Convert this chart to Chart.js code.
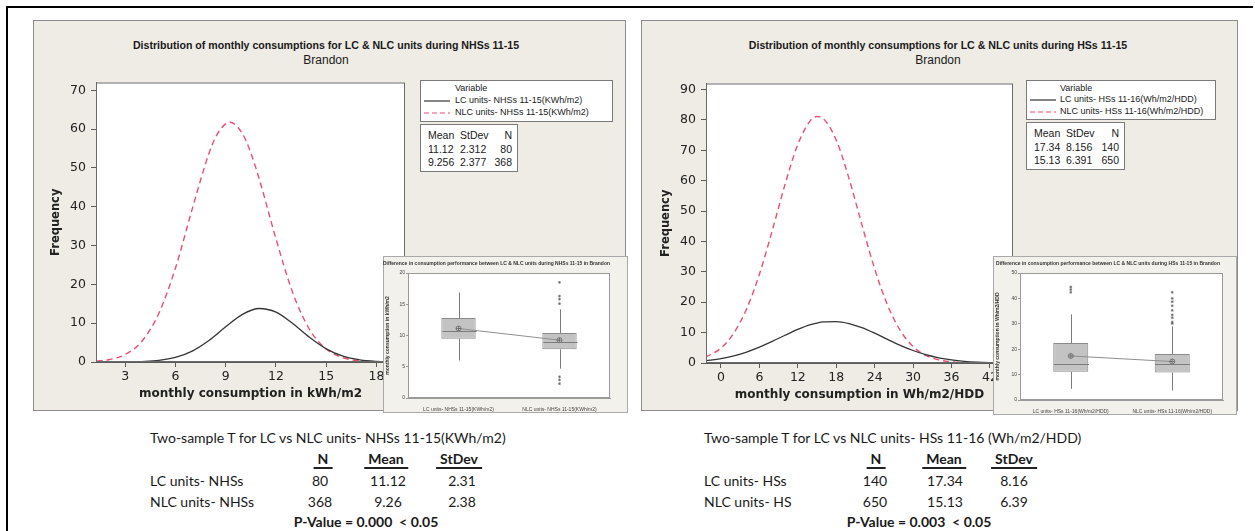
<!DOCTYPE html>
<html>
<head>
<meta charset="utf-8">
<title>Brandon consumption distributions</title>
<script src="https://cdn.jsdelivr.net/npm/chart.js@4.4.1/dist/chart.umd.min.js"></script>
<style>
  body { margin: 0; background: #fff; width: 1255px; height: 531px; position: relative; overflow: hidden; font-family: 'Liberation Sans', Arial, sans-serif; color: #1a1a1a; }
  .abs { position: absolute; }
  .rule { position: absolute; background: #000; }
  .panel { position: absolute; background: #efece5; border: 1px solid #8c8c8c; box-sizing: border-box; }
  .gtitle { position: absolute; font-weight: bold; font-size: 10.6px; transform: translateX(-50%); white-space: nowrap; }
  .gsub { position: absolute; font-size: 12px; transform: translateX(-50%); white-space: nowrap; }
  .box { position: absolute; background: #fff; border: 1px solid #7a7a7a; box-sizing: border-box; font-size: 9px; }
  .box div { position: absolute; white-space: nowrap; }
  .inset { position: absolute; background: #f3f1ec; border: 1px solid #a9a9a9; box-sizing: border-box; }
  .t { position: absolute; font-family: Lato, 'Open Sans', sans-serif; font-size: 14px; line-height: 16px; white-space: nowrap; }
  .c { transform: translateX(-50%); }
  .b { font-weight: bold; }
  .u { border-bottom: 2px solid #222; padding: 0 4px; }
  canvas { position: absolute; }
</style>
</head>
<body>
<div class="rule" style="left:6px;top:6px;width:1247px;height:2px"></div>
<div class="rule" style="left:6px;top:6px;width:2px;height:525px"></div>

<!-- NHS graph window -->
<div class="panel" style="left:33px;top:20px;width:593px;height:391px"></div>
<div class="gtitle" style="left:326px;top:39px">Distribution of monthly consumptions for LC &amp; NLC units during NHSs 11-15</div>
<div class="gsub" style="left:326px;top:53px">Brandon</div>
<canvas id="nhsChart" width="370" height="340" style="left:40px;top:70px"></canvas>
<div class="box" style="left:420px;top:80px;width:193px;height:42px">
  <div style="left:34px;top:2px">Variable</div>
  <svg class="abs" style="left:3px;top:19px" width="28" height="3"><line x1="0" y1="1" x2="26" y2="1" stroke="#333" stroke-width="1.2"/></svg>
  <div style="left:34px;top:14px">LC units- NHSs 11-15(KWh/m2)</div>
  <svg class="abs" style="left:3px;top:31px" width="28" height="3"><line x1="0" y1="1" x2="26" y2="1" stroke="#ee4d6f" stroke-width="1.2" stroke-dasharray="5,3"/></svg>
  <div style="left:34px;top:26px">NLC units- NHSs 11-15(KWh/m2)</div>
</div>
<div class="box" id="nhsStats" style="left:420px;top:124px;width:98px;height:48px;font-size:10.5px"></div>
<div class="inset" style="left:383px;top:256px;width:245px;height:157px"></div>
<canvas id="nhsBox" width="245" height="157" style="left:383px;top:256px"></canvas>

<!-- HS graph window -->
<div class="panel" style="left:641px;top:20px;width:597px;height:391px"></div>
<div class="gtitle" style="left:938px;top:39px">Distribution of monthly consumptions for LC &amp; NLC units during HSs 11-15</div>
<div class="gsub" style="left:938px;top:53px">Brandon</div>
<canvas id="hsChart" width="368" height="340" style="left:650px;top:71px"></canvas>
<div class="box" style="left:1026px;top:80px;width:190px;height:40px">
  <div style="left:33px;top:2px">Variable</div>
  <svg class="abs" style="left:3px;top:18px" width="28" height="3"><line x1="0" y1="1" x2="26" y2="1" stroke="#333" stroke-width="1.2"/></svg>
  <div style="left:33px;top:13px">LC units- HSs 11-16(Wh/m2/HDD)</div>
  <svg class="abs" style="left:3px;top:30px" width="28" height="3"><line x1="0" y1="1" x2="26" y2="1" stroke="#ee4d6f" stroke-width="1.2" stroke-dasharray="5,3"/></svg>
  <div style="left:33px;top:25px">NLC units- HSs 11-16(Wh/m2/HDD)</div>
</div>
<div class="box" id="hsStats" style="left:1026px;top:122px;width:99px;height:48px;font-size:10.5px"></div>
<div class="inset" style="left:993px;top:256px;width:244px;height:159px"></div>
<canvas id="hsBox" width="244" height="159" style="left:993px;top:256px"></canvas>

<!-- two-sample t summaries -->
<div class="t" style="left:150px;top:430px">Two-sample T for LC vs NLC units- NHSs 11-15(KWh/m2)</div>
<div class="t b c u" style="left:323px;top:451px">N</div>
<div class="t b c u" style="left:386px;top:451px">Mean</div>
<div class="t b c u" style="left:459px;top:451px">StDev</div>
<div class="t" style="left:150px;top:473px">LC units- NHSs</div>
<div class="t c" style="left:320px;top:473px">80</div>
<div class="t c" style="left:388px;top:473px">11.12</div>
<div class="t c" style="left:462px;top:473px">2.31</div>
<div class="t" style="left:150px;top:494px">NLC units- NHSs</div>
<div class="t c" style="left:320px;top:494px">368</div>
<div class="t c" style="left:388px;top:494px">9.26</div>
<div class="t c" style="left:462px;top:494px">2.38</div>
<div class="t b c" style="left:366px;top:514px">P-Value = 0.000 &nbsp;&lt; 0.05</div>

<div class="t" style="left:704px;top:430px">Two-sample T for LC vs NLC units- HSs 11-16 (Wh/m2/HDD)</div>
<div class="t b c u" style="left:876px;top:451px">N</div>
<div class="t b c u" style="left:944px;top:451px">Mean</div>
<div class="t b c u" style="left:1014px;top:451px">StDev</div>
<div class="t" style="left:704px;top:473px">LC units- HSs</div>
<div class="t c" style="left:875px;top:473px">140</div>
<div class="t c" style="left:945px;top:473px">17.34</div>
<div class="t c" style="left:1014px;top:473px">8.16</div>
<div class="t" style="left:704px;top:494px">NLC units- HS</div>
<div class="t c" style="left:875px;top:494px">650</div>
<div class="t c" style="left:945px;top:494px">15.13</div>
<div class="t c" style="left:1014px;top:494px">6.39</div>
<div class="t b c" style="left:919px;top:514px">P-Value = 0.003 &nbsp;&lt; 0.05</div>

<script>
// NHSs 11-15 fitted frequency curves (kWh/m2)
const nhsLcX = [3.8, 5, 6, 7, 8, 9, 10, 11, 12, 13, 14, 15, 16, 17, 18, 19];
const nhsLc = [0.09, 0.42, 1.19, 2.82, 5.55, 9.06, 12.27, 13.78, 12.84, 9.91, 6.35, 3.38, 1.49, 0.54, 0.16, 0.04];
const nhsNlcX = [1.3, 2, 3, 4, 5, 6, 7, 8, 8.5, 9.25, 10, 10.5, 11, 12, 13, 14, 15, 16, 17, 18, 19];
const nhsNlc = [0.23, 0.58, 1.93, 5.36, 12.43, 24.17, 39.37, 53.71, 58.72, 61.76, 58.81, 53.85, 47.18, 31.73, 17.87, 8.42, 3.33, 1.10, 0.31, 0.07, 0.01];
const nhsXTicks = [3, 6, 9, 12, 15, 18];
const nhsYTicks = [0, 10, 20, 30, 40, 50, 60, 70];

// HSs 11-16 fitted frequency curves (Wh/m2/HDD)
const hsLcX = [-2.4, 0, 2, 4, 6, 8, 10, 12, 14, 16, 18, 20, 22, 24, 26, 28, 30, 32, 34, 36, 38, 40, 42, 44];
const hsLc = [0.73, 1.43, 2.34, 3.59, 5.21, 7.11, 9.14, 11.06, 12.60, 13.52, 13.65, 12.99, 11.64, 9.82, 7.80, 5.83, 4.11, 2.72, 1.70, 1.00, 0.55, 0.29, 0.14, 0.06];
const hsNlcX = [-2.4, 0, 2, 4, 6, 8, 10, 12, 14, 15, 16, 18, 20, 22, 24, 26, 28, 30, 32, 34, 36, 38, 40, 42];
const hsNlc = [1.89, 4.93, 9.84, 17.80, 29.23, 43.54, 58.79, 71.97, 79.88, 81.13, 80.39, 73.36, 60.69, 45.53, 30.97, 19.10, 10.68, 5.41, 2.49, 1.04, 0.39, 0.13, 0.04, 0.01];
const hsXTicks = [0, 6, 12, 18, 24, 30, 36, 42];
const hsYTicks = [0, 10, 20, 30, 40, 50, 60, 70, 80, 90];

// descriptive statistics boxes
const statHead = ['Mean', 'StDev', 'N'];
const nhsStats = [['11.12', '2.312', '80'], ['9.256', '2.377', '368']];
const hsStats = [['17.34', '8.156', '140'], ['15.13', '6.391', '650']];

// boxplot summaries
const nhsBoxLabels = ['LC units- NHSs 11-15(KWh/m2)', 'NLC units- NHSs 11-15(KWh/m2)'];
const nhsBoxLow = [6.0, 4.7];
const nhsBoxQ1 = [9.5, 7.8];
const nhsBoxMed = [10.8, 9.0];
const nhsBoxQ3 = [12.8, 10.4];
const nhsBoxHigh = [16.9, 14.2];
const nhsBoxMean = [11.12, 9.256];
const nhsLcOut = [];
const nhsNlcOut = [15.1, 15.8, 16.3, 18.5, 3.4, 2.9, 2.3];
const nhsBoxTicks = [0, 5, 10, 15, 20];

const hsBoxLabels = ['LC units- HSs 11-16(Wh/m2/HDD)', 'NLC units- HSs 11-16(Wh/m2/HDD)'];
const hsBoxLow = [4.4, 3.7];
const hsBoxQ1 = [11.1, 10.8];
const hsBoxMed = [14.0, 14.0];
const hsBoxQ3 = [22.4, 18.1];
const hsBoxHigh = [33.7, 29.0];
const hsBoxMean = [17.34, 15.13];
const hsLcOut = [42.4, 43.5, 44.5];
const hsNlcOut = [30.1, 30.7, 32.4, 33.5, 35.3, 37.1, 38.7, 40.0, 42.4];
const hsBoxTicks = [0, 10, 20, 30, 40, 50];

const LC_COLOR = '#353535';
const NLC_COLOR = '#ee4d6f';
const AXIS = '#5a5a5a';

function fillStats(id, rows) {
  const el = document.getElementById(id);
  const cols = [7, 39, 76];
  const html = [];
  [statHead].concat(rows).forEach((r, j) => {
    r.forEach((txt, k) => {
      const style = k === 2 ? 'right:5px' : `left:${cols[k]}px`;
      html.push(`<div style="${style};top:${4 + j * 13.5}px">${txt}</div>`);
    });
  });
  el.innerHTML = html.join('');
}
fillStats('nhsStats', nhsStats);
fillStats('hsStats', hsStats);

// white data region with a grey frame
const plotFrame = {
  id: 'plotFrame',
  beforeDraw(chart) {
    const { ctx, chartArea: a } = chart;
    ctx.save();
    ctx.fillStyle = '#fff';
    ctx.fillRect(a.left, a.top, a.width, a.height);
    ctx.restore();
  },
  afterDraw(chart, args, opts) {
    const { ctx, chartArea: a } = chart;
    ctx.save();
    ctx.strokeStyle = opts.color || '#6a6a6a';
    ctx.lineWidth = 1;
    ctx.strokeRect(a.left + 0.5, a.top + 0.5, a.width - 1, a.height - 1);
    ctx.restore();
  }
};

// whiskers and median lines for the floating-bar boxes
const boxWhiskers = {
  id: 'boxWhiskers',
  afterDatasetsDraw(chart, args, opts) {
    const { ctx } = chart;
    const y = chart.scales.y;
    const meta = chart.getDatasetMeta(0);
    ctx.save();
    ctx.strokeStyle = '#7c7c7c';
    ctx.lineWidth = 1;
    opts.low.forEach((lo, i) => {
      const bar = meta.data[i];
      const cx = Math.round(bar.x) + 0.5;
      const half = bar.width / 2;
      ctx.beginPath();
      ctx.moveTo(cx, y.getPixelForValue(lo));
      ctx.lineTo(cx, y.getPixelForValue(opts.q1[i]));
      ctx.moveTo(cx, y.getPixelForValue(opts.q3[i]));
      ctx.lineTo(cx, y.getPixelForValue(opts.high[i]));
      const my = Math.round(y.getPixelForValue(opts.median[i])) + 0.5;
      ctx.moveTo(cx - half, my);
      ctx.lineTo(cx + half, my);
      ctx.stroke();
    });
    ctx.restore();
  }
};

function curveChart(id, o) {
  return new Chart(document.getElementById(id), {
    type: 'line',
    data: {
      datasets: [
        { label: o.lcLabel, data: o.lcX.map((x, i) => ({ x, y: o.lc[i] })), borderColor: LC_COLOR, borderWidth: 1.3 },
        { label: o.nlcLabel, data: o.nlcX.map((x, i) => ({ x, y: o.nlc[i] })), borderColor: NLC_COLOR, borderWidth: 1.4, borderDash: [6, 4] }
      ]
    },
    options: {
      responsive: false,
      animation: false,
      devicePixelRatio: 1,
      layout: { padding: { top: 8, right: 5, left: 0, bottom: 0 } },
      elements: { point: { radius: 0 }, line: { cubicInterpolationMode: 'monotone', fill: false } },
      plugins: { legend: { display: false }, tooltip: { enabled: false }, title: { display: false } },
      scales: {
        x: {
          type: 'linear', min: o.xMin, max: o.xMax,
          afterBuildTicks: s => { s.ticks = o.xTicks.map(v => ({ value: v })); },
          afterFit: s => { s.height = 48; },
          ticks: { color: '#222', padding: 2, maxRotation: 0, autoSkip: false, font: { family: 'DejaVu Sans', size: 12.5 } },
          grid: { drawOnChartArea: false, drawTicks: true, tickLength: 5, color: AXIS },
          border: { color: AXIS },
          title: { display: true, text: o.xTitle, color: '#222', padding: 9, font: { family: 'DejaVu Sans', size: 12, weight: 'bold' } }
        },
        y: {
          min: 0, max: o.yMax,
          afterBuildTicks: s => { s.ticks = o.yTicks.map(v => ({ value: v })); },
          afterFit: s => { s.width = 56; },
          ticks: { color: '#222', padding: 5, autoSkip: false, font: { family: 'DejaVu Sans', size: 12.5 } },
          grid: { drawOnChartArea: false, drawTicks: true, tickLength: 5, color: AXIS },
          border: { color: AXIS },
          title: { display: true, text: 'Frequency', color: '#222', padding: 9, font: { family: 'DejaVu Sans', size: 11.5, weight: 'bold' } }
        }
      }
    },
    plugins: [plotFrame]
  });
}

curveChart('nhsChart', {
  lcX: nhsLcX, lc: nhsLc, nlcX: nhsNlcX, nlc: nhsNlc,
  lcLabel: 'LC units- NHSs 11-15(KWh/m2)', nlcLabel: 'NLC units- NHSs 11-15(KWh/m2)',
  xMin: 1.26, xMax: 19.7, yMax: 72, xTicks: nhsXTicks, yTicks: nhsYTicks,
  xTitle: 'monthly consumption in kWh/m2'
});
curveChart('hsChart', {
  lcX: hsLcX, lc: hsLc, nlcX: hsNlcX, nlc: hsNlc,
  lcLabel: 'LC units- HSs 11-16(Wh/m2/HDD)', nlcLabel: 'NLC units- HSs 11-16(Wh/m2/HDD)',
  xMin: -2.34, xMax: 45.6, yMax: 92, xTicks: hsXTicks, yTicks: hsYTicks,
  xTitle: 'monthly consumption in Wh/m2/HDD'
});

function boxChart(id, o) {
  const outliers = o.labels.flatMap((lab, i) => o.out[i].map(v => ({ x: lab, y: v })));
  const tiny = { family: 'Liberation Sans', size: 5 };
  return new Chart(document.getElementById(id), {
    type: 'bar',
    data: {
      labels: o.labels,
      datasets: [
        { data: o.q1.map((v, i) => [v, o.q3[i]]), backgroundColor: '#c3c3c3', borderColor: '#8a8a8a', borderWidth: 1, borderSkipped: false, barPercentage: o.barPct, categoryPercentage: 1, order: 3 },
        { type: 'line', data: o.mean, borderColor: '#8f8f8f', borderWidth: 1, pointStyle: 'circle', pointRadius: 2.5, pointBorderColor: '#666', pointBackgroundColor: 'rgba(0,0,0,0)', pointBorderWidth: 0.8, order: 1 },
        { type: 'line', data: o.mean, showLine: false, pointStyle: 'cross', pointRadius: 2.5, pointBorderColor: '#666', pointBorderWidth: 0.8, order: 0 },
        { type: 'line', data: outliers, showLine: false, pointStyle: 'star', pointRadius: 1.4, pointBorderColor: '#666', pointBorderWidth: 0.7, order: 0 }
      ]
    },
    options: {
      responsive: false,
      animation: false,
      devicePixelRatio: 1,
      layout: { padding: { top: 0, right: o.padRight, left: 0, bottom: 0 } },
      plugins: {
        legend: { display: false }, tooltip: { enabled: false },
        title: { display: true, text: o.title, color: '#333', font: { family: 'Liberation Sans', size: 5, weight: 'bold' }, padding: { top: 5, bottom: 6 } },
        boxWhiskers: { low: o.low, q1: o.q1, q3: o.q3, high: o.high, median: o.med },
        plotFrame: { color: '#9a9a9a' }
      },
      scales: {
        x: {
          afterFit: s => { s.height = o.xH; },
          ticks: { color: '#444', padding: 1, maxRotation: 0, font: tiny },
          grid: { display: false },
          border: { color: '#9a9a9a' }
        },
        y: {
          min: 0, max: o.yMax,
          afterBuildTicks: s => { s.ticks = o.yTicks.map(v => ({ value: v })); },
          afterFit: s => { s.width = o.yW; },
          ticks: { color: '#444', padding: 1, font: tiny },
          grid: { drawOnChartArea: false, drawTicks: true, tickLength: 2, color: '#9a9a9a' },
          border: { color: '#9a9a9a' },
          title: { display: true, text: o.yTitle, color: '#333', padding: 2, font: { family: 'Liberation Sans', size: 5, weight: 'bold' } }
        }
      }
    },
    plugins: [plotFrame, boxWhiskers]
  });
}

boxChart('nhsBox', {
  labels: nhsBoxLabels, low: nhsBoxLow, q1: nhsBoxQ1, med: nhsBoxMed, q3: nhsBoxQ3, high: nhsBoxHigh,
  mean: nhsBoxMean, out: [nhsLcOut, nhsNlcOut], yMax: 20, yTicks: nhsBoxTicks,
  title: 'Difference in consumption performance between LC & NLC units during NHSs 11-15 in Brandon',
  yTitle: 'monthly consumption in kWh/m2', barPct: 0.34, padRight: 18, xH: 15, yW: 25
});
boxChart('hsBox', {
  labels: hsBoxLabels, low: hsBoxLow, q1: hsBoxQ1, med: hsBoxMed, q3: hsBoxQ3, high: hsBoxHigh,
  mean: hsBoxMean, out: [hsLcOut, hsNlcOut], yMax: 50, yTicks: hsBoxTicks,
  title: 'Difference in consumption performance between LC & NLC units during HSs 11-15 in Brandon',
  yTitle: 'monthly consumption in Wh/m2/HDD', barPct: 0.345, padRight: 14, xH: 15, yW: 27
});
</script>
</body>
</html>
